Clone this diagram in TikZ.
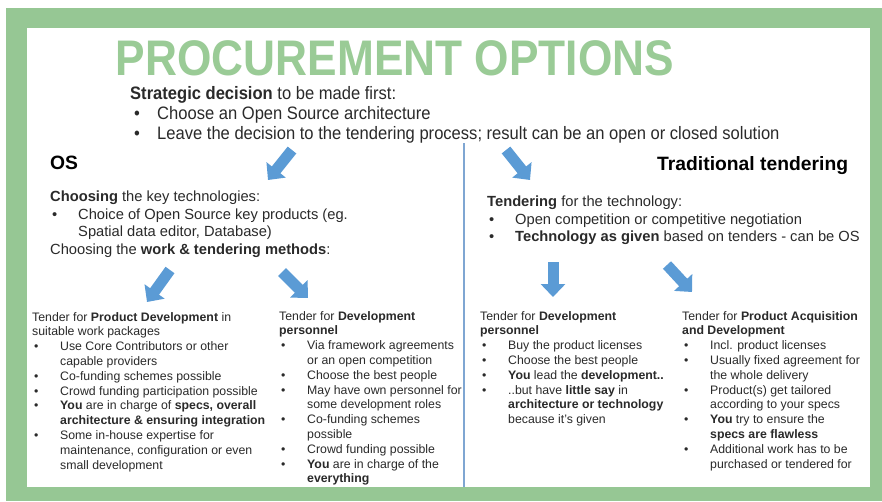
\documentclass[tikz,border=0pt]{standalone}
\usepackage{fontspec}
\setmainfont{Liberation Sans}
\newfontfamily\narrowfont[FakeStretch=0.885]{Liberation Sans}
\newfontfamily\stratfont[FakeStretch=0.92]{Liberation Sans}
\usepackage{xcolor}
\usetikzlibrary{arrows.meta}
\definecolor{vgreen}{HTML}{96C794}
\definecolor{vtitle}{HTML}{9ACB96}
\definecolor{vblue}{HTML}{5B9BD5}
\definecolor{vline}{HTML}{7FA6D2}
\definecolor{vtext}{HTML}{2A2A2A}
\newcommand{\vbul}{\hspace*{2pt}\makebox[26pt][l]{\textbullet}}
\newcommand{\vind}{\hspace*{28pt}}
\tikzset{
	colbox/.style={anchor=north west, align=left, inner sep=0pt, text=vtext, font=\fontsize{12.3}{14.8}\selectfont},
	midbox/.style={anchor=north west, align=left, inner sep=0pt, text=vtext, font=\fontsize{14.7}{17.5}\selectfont},
	headbox/.style={anchor=north west, inner sep=0pt, text=black, font=\fontsize{19.3}{22}\selectfont\bfseries},
	blockarrow/.style={draw=vblue, line width=11pt, -{Triangle[length=13pt,width=24pt]}},
}
\begin{document}
\begin{tikzpicture}[x=1pt, y=-1pt]
		\useasboundingbox (0,0) rectangle (882,501);
		\fill[white] (0,0) rectangle (882,501);
		\fill[vgreen] (6,8) rectangle (882,501);
		\fill[white] (27,28) rectangle (870,487);
		\draw[draw = vline, line width = 1.5pt] (464,143) -- (464,487);
		\node[anchor=north, inner sep=0pt, text=vtitle, font=\fontsize{50}{50}\narrowfont\bfseries] (title) at (395,40) {PROCUREMENT OPTIONS};
		\node[anchor=north west, align=left, inner sep=0pt, text=vtext, font=\fontsize{18}{20}\stratfont] (strat) at (130,86) {\textbf{Strategic decision} to be made first:\\
			\hspace*{4pt}\makebox[23pt][l]{\textbullet}Choose an Open Source architecture\\
			\hspace*{4pt}\makebox[23pt][l]{\textbullet}Leave the decision to the tendering process; result can be an open or closed solution};
		\node[headbox] (os) at (50,156) {OS};
		\node[headbox] (trad) at (657,156) {Traditional tendering};
		\node[midbox] (oskey) at (50,191) {\textbf{Choosing} the key technologies:\\
			\vbul Choice of Open Source key products (eg.\\
			\vind Spatial data editor, Database)\\
			Choosing the \textbf{work \& tendering methods}:};
		\node[midbox] (tradkey) at (487,196) {\textbf{Tendering} for the technology:\\
			\vbul Open competition or competitive negotiation\\
			\vbul \textbf{Technology as given} based on tenders - can be OS};
		\node[colbox] (prod) at (32,312) {Tender for \textbf{Product Development} in\\
			suitable work packages\\
			\vbul Use Core Contributors or other\\
			\vind capable providers\\
			\vbul Co-funding schemes possible\\
			\vbul Crowd funding participation possible\\
			\vbul \textbf{You} are in charge of \textbf{specs, overall}\\
			\vind \textbf{architecture \& ensuring integration}\\
			\vbul Some in-house expertise for\\
			\vind maintenance, configuration or even\\
			\vind small development};
		\node[colbox] (devos) at (279,311) {Tender for \textbf{Development}\\
			\textbf{personnel}\\
			\vbul Via framework agreements\\
			\vind or an open competition\\
			\vbul Choose the best people\\
			\vbul May have own personnel for\\
			\vind some development roles\\
			\vbul Co-funding schemes\\
			\vind possible\\
			\vbul Crowd funding possible\\
			\vbul \textbf{You} are in charge of the\\
			\vind \textbf{everything}};
		\node[colbox] (devtrad) at (480,311) {Tender for \textbf{Development}\\
			\textbf{personnel}\\
			\vbul Buy the product licenses\\
			\vbul Choose the best people\\
			\vbul \textbf{You} lead the \textbf{development..}\\
			\vbul ..but have \textbf{little say} in\\
			\vind \textbf{architecture or technology}\\
			\vind because it's given};
		\node[colbox] (acq) at (682,311) {Tender for \textbf{Product Acquisition}\\
			\textbf{and Development}\\
			\vbul Incl. product licenses\\
			\vbul Usually fixed agreement for\\
			\vind the whole delivery\\
			\vbul Product(s) get tailored\\
			\vind according to your specs\\
			\vbul \textbf{You} try to ensure the\\
			\vind \textbf{specs are flawless}\\
			\vbul Additional work has to be\\
			\vind purchased or tendered for};
		\coordinate (a1s) at (292,150);
		\coordinate (a1e) at (268,180);
		\coordinate (a2s) at (506,150);
		\coordinate (a2e) at (530,180);
		\coordinate (a3s) at (170,270);
		\coordinate (a3e) at (147,302);
		\coordinate (a4s) at (282,272);
		\coordinate (a4e) at (308,298);
		\coordinate (a5s) at (553,262);
		\coordinate (a5e) at (553,297);
		\coordinate (a6s) at (667,265);
		\coordinate (a6e) at (692,292);
		\draw[blockarrow] (a1s) -- (a1e);
		\draw[blockarrow] (a2s) -- (a2e);
		\draw[blockarrow] (a3s) -- (a3e);
		\draw[blockarrow] (a4s) -- (a4e);
		\draw[blockarrow] (a5s) -- (a5e);
		\draw[blockarrow] (a6s) -- (a6e);
	\end{tikzpicture}
\end{document}
